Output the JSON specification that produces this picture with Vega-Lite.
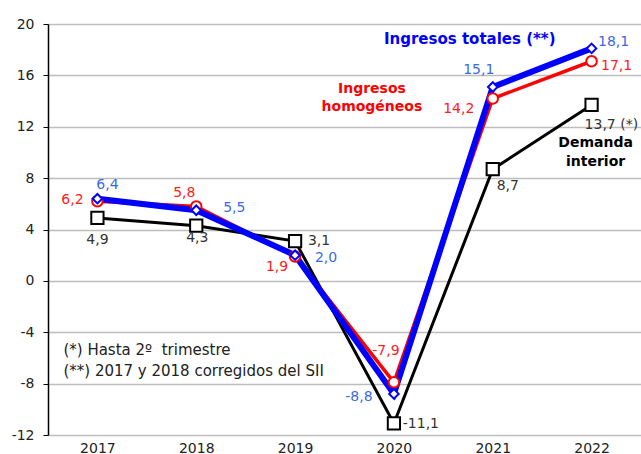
{
  "$schema": "https://vega.github.io/schema/vega-lite/v6.json",
  "width": 593,
  "height": 411,
  "autosize": "none",
  "padding": {"left": 48, "top": 24, "right": 0, "bottom": 19},
  "config": {
    "view": {"stroke": null},
    "font": "DejaVu Sans",
    "locale": {"number": {"decimal": ",", "thousands": ".", "grouping": [3], "currency": ["", " €"], "minus": "-"}},
    "text": {"font": "DejaVu Sans", "fontSize": 14, "baseline": "middle", "align": "center"}
  },
  "datasets": {
    "d": [
      {"year": "2017", "serie": "D", "value": 4.9},
      {"year": "2018", "serie": "D", "value": 4.3},
      {"year": "2019", "serie": "D", "value": 3.1},
      {"year": "2020", "serie": "D", "value": -11.1},
      {"year": "2021", "serie": "D", "value": 8.7},
      {"year": "2022", "serie": "D", "value": 13.7},
      {"year": "2017", "serie": "H", "value": 6.2},
      {"year": "2018", "serie": "H", "value": 5.8},
      {"year": "2019", "serie": "H", "value": 1.9},
      {"year": "2020", "serie": "H", "value": -7.9},
      {"year": "2021", "serie": "H", "value": 14.2},
      {"year": "2022", "serie": "H", "value": 17.1},
      {"year": "2017", "serie": "T", "value": 6.4},
      {"year": "2018", "serie": "T", "value": 5.5},
      {"year": "2019", "serie": "T", "value": 2.0},
      {"year": "2020", "serie": "T", "value": -8.8},
      {"year": "2021", "serie": "T", "value": 15.1},
      {"year": "2022", "serie": "T", "value": 18.1}
    ],
    "ann": [
      {"year": "2021", "value": 18.85, "label": "Ingresos totales (**)", "kind": "T"},
      {"year": "2020", "value": 14.95, "label": "Ingresos", "kind": "H"},
      {"year": "2020", "value": 13.55, "label": "homogéneos", "kind": "H"},
      {"year": "2022", "value": 10.75, "label": "Demanda", "kind": "D"},
      {"year": "2022", "value": 9.27, "label": "interior", "kind": "D"}
    ],
    "notes": [
      {"year": "2017", "value": -5.37, "label": "(*) Hasta 2º\u00a0 trimestre"},
      {"year": "2017", "value": -7.0, "label": "(**) 2017 y 2018 corregidos del SII"}
    ]
  },
  "data": {"name": "d"},
  "encoding": {
    "x": {"field": "year", "type": "ordinal", "scale": {"type": "point", "padding": 0.5},
      "axis": {"title": null, "labelAngle": 0, "ticks": false, "domain": false, "labelFontSize": 14, "labelColor": "#222", "labelPadding": 6, "labelFont": "DejaVu Sans"}},
    "y": {"field": "value", "type": "quantitative", "scale": {"domain": [-12, 20], "nice": false, "zero": false},
      "axis": {"title": null, "values": [-12, -8, -4, 0, 4, 8, 12, 16, 20], "labelFontSize": 14, "labelColor": "#222", "tickSize": 5, "tickColor": "#000", "domainColor": "#000", "domainWidth": 1.5, "labelPadding": 9, "gridColor": "#bdbdbd", "gridWidth": 1.3, "labelFont": "DejaVu Sans", "format": "d"}}
  },
  "layer": [
    {"transform": [{"filter": "datum.serie == 'D'"}], "mark": {"type": "line", "color": "#000", "strokeWidth": 3}},
    {"transform": [{"filter": "datum.serie == 'H'"}], "mark": {"type": "line", "color": "#ff0000", "strokeWidth": 3.5}},
    {"transform": [{"filter": "datum.serie == 'T'"}], "mark": {"type": "line", "color": "#0000ff", "strokeWidth": 6}},
    {"transform": [{"filter": "datum.serie == 'D'"}], "mark": {"type": "point", "shape": "square", "filled": true, "fill": "#fff", "stroke": "#000", "strokeWidth": 2, "size": 150, "opacity": 1}},
    {"transform": [{"filter": "datum.serie == 'H'"}], "mark": {"type": "point", "shape": "circle", "filled": true, "fill": "#fff", "stroke": "#ff0000", "strokeWidth": 2, "size": 110, "opacity": 1}},
    {"transform": [{"filter": "datum.serie == 'T'"}], "mark": {"type": "point", "shape": "diamond", "filled": true, "fill": "#fff", "stroke": "#0000ff", "strokeWidth": 2, "size": 90, "opacity": 1}},

    {"transform": [{"filter": "datum.serie == 'T' && datum.year == '2017'"}], "mark": {"type": "text", "color": "#3a6be6", "dx": 10, "dy": -14}, "encoding": {"text": {"field": "value", "format": ".1f"}}},
    {"transform": [{"filter": "datum.serie == 'T' && datum.year == '2018'"}], "mark": {"type": "text", "color": "#3a6be6", "dx": 38, "dy": -2}, "encoding": {"text": {"field": "value", "format": ".1f"}}},
    {"transform": [{"filter": "datum.serie == 'T' && datum.year == '2019'"}], "mark": {"type": "text", "color": "#3a6be6", "dx": 31, "dy": 3}, "encoding": {"text": {"field": "value", "format": ".1f"}}},
    {"transform": [{"filter": "datum.serie == 'T' && datum.year == '2020'"}], "mark": {"type": "text", "color": "#3a6be6", "dx": -35, "dy": 3}, "encoding": {"text": {"field": "value", "format": ".1f"}}},
    {"transform": [{"filter": "datum.serie == 'T' && datum.year == '2021'"}], "mark": {"type": "text", "color": "#3a6be6", "dx": -14, "dy": -17}, "encoding": {"text": {"field": "value", "format": ".1f"}}},
    {"transform": [{"filter": "datum.serie == 'T' && datum.year == '2022'"}], "mark": {"type": "text", "color": "#3a6be6", "dx": 22, "dy": -6}, "encoding": {"text": {"field": "value", "format": ".1f"}}},

    {"transform": [{"filter": "datum.serie == 'H' && datum.year == '2017'"}], "mark": {"type": "text", "color": "#ff2020", "dx": -25, "dy": -1}, "encoding": {"text": {"field": "value", "format": ".1f"}}},
    {"transform": [{"filter": "datum.serie == 'H' && datum.year == '2018'"}], "mark": {"type": "text", "color": "#ff2020", "dx": -12, "dy": -13}, "encoding": {"text": {"field": "value", "format": ".1f"}}},
    {"transform": [{"filter": "datum.serie == 'H' && datum.year == '2019'"}], "mark": {"type": "text", "color": "#ff2020", "dx": -18, "dy": 11}, "encoding": {"text": {"field": "value", "format": ".1f"}}},
    {"transform": [{"filter": "datum.serie == 'H' && datum.year == '2020'"}], "mark": {"type": "text", "color": "#ff2020", "dx": -8, "dy": -31}, "encoding": {"text": {"field": "value", "format": ".1f"}}},
    {"transform": [{"filter": "datum.serie == 'H' && datum.year == '2021'"}], "mark": {"type": "text", "color": "#ff2020", "dx": -34, "dy": 11}, "encoding": {"text": {"field": "value", "format": ".1f"}}},
    {"transform": [{"filter": "datum.serie == 'H' && datum.year == '2022'"}], "mark": {"type": "text", "color": "#ff2020", "dx": 25, "dy": 5}, "encoding": {"text": {"field": "value", "format": ".1f"}}},

    {"transform": [{"filter": "datum.serie == 'D' && datum.year == '2017'"}], "mark": {"type": "text", "color": "#333", "dx": 0, "dy": 22}, "encoding": {"text": {"field": "value", "format": ".1f"}}},
    {"transform": [{"filter": "datum.serie == 'D' && datum.year == '2018'"}], "mark": {"type": "text", "color": "#333", "dx": 1, "dy": 12}, "encoding": {"text": {"field": "value", "format": ".1f"}}},
    {"transform": [{"filter": "datum.serie == 'D' && datum.year == '2019'"}], "mark": {"type": "text", "color": "#333", "dx": 24, "dy": 0}, "encoding": {"text": {"field": "value", "format": ".1f"}}},
    {"transform": [{"filter": "datum.serie == 'D' && datum.year == '2020'"}], "mark": {"type": "text", "color": "#333", "dx": 27, "dy": 1}, "encoding": {"text": {"field": "value", "format": ".1f"}}},
    {"transform": [{"filter": "datum.serie == 'D' && datum.year == '2021'"}], "mark": {"type": "text", "color": "#333", "dx": 15, "dy": 17}, "encoding": {"text": {"field": "value", "format": ".1f"}}},
    {"transform": [{"filter": "datum.serie == 'D' && datum.year == '2022'"}], "mark": {"type": "text", "color": "#333", "align": "left", "dx": -7, "dy": 20}, "encoding": {"text": {"value": "13,7 (*)"}}},

    {"data": {"name": "ann"}, "transform": [{"filter": "datum.kind == 'T'"}], "mark": {"type": "text", "color": "#0000ff", "fontWeight": "bold", "fontSize": 15, "dx": -23}, "encoding": {"text": {"field": "label"}}},
    {"data": {"name": "ann"}, "transform": [{"filter": "datum.kind == 'H'"}], "mark": {"type": "text", "color": "#ff0000", "fontWeight": "bold", "dx": -22}, "encoding": {"text": {"field": "label"}}},
    {"data": {"name": "ann"}, "transform": [{"filter": "datum.kind == 'D'"}], "mark": {"type": "text", "color": "#000", "fontWeight": "bold", "dx": 4}, "encoding": {"text": {"field": "label"}}},
    {"data": {"name": "notes"}, "mark": {"type": "text", "color": "#222", "align": "left", "dx": -34, "fontSize": 15}, "encoding": {"text": {"field": "label"}}}
  ]
}
